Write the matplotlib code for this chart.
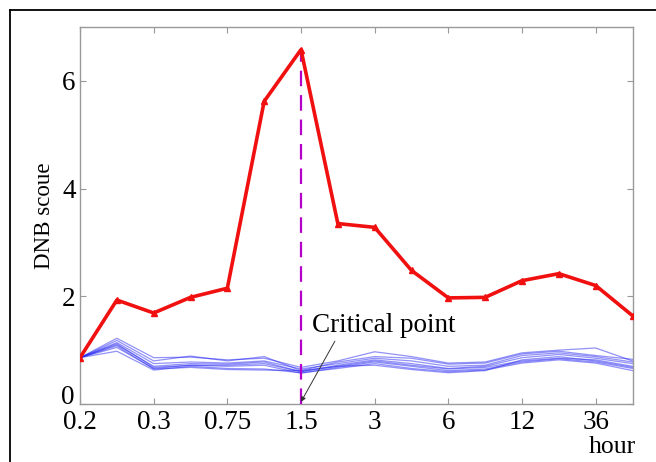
import matplotlib
matplotlib.use("Agg")
import matplotlib.pyplot as plt
import matplotlib.transforms as mtransforms
from matplotlib.lines import Line2D

tick_labels = ["0.2", "0.3", "0.75", "1.5", "3", "6", "12", "36"]
x = list(range(16))
red = [0.86, 1.93, 1.69, 1.98, 2.15, 5.62, 6.58, 3.35, 3.28, 2.48, 1.97, 1.98, 2.29, 2.42, 2.20, 1.64]
blue_lines = [
    [0.86, 1.22, 0.86, 0.87, 0.82, 0.85, 0.68, 0.80, 0.97, 0.88, 0.76, 0.78, 0.95, 1.00, 1.04, 0.80],
    [0.86, 1.18, 0.80, 0.89, 0.80, 0.88, 0.62, 0.78, 0.88, 0.85, 0.74, 0.76, 0.93, 0.98, 0.90, 0.83],
    [0.86, 1.14, 0.75, 0.78, 0.76, 0.80, 0.65, 0.75, 0.85, 0.80, 0.70, 0.72, 0.90, 0.95, 0.88, 0.78],
    [0.86, 1.10, 0.70, 0.75, 0.74, 0.78, 0.60, 0.72, 0.82, 0.75, 0.66, 0.70, 0.86, 0.92, 0.85, 0.75],
    [0.86, 1.12, 0.68, 0.72, 0.72, 0.75, 0.60, 0.70, 0.80, 0.72, 0.65, 0.68, 0.80, 0.85, 0.82, 0.70],
    [0.86, 1.05, 0.66, 0.72, 0.70, 0.72, 0.57, 0.68, 0.78, 0.70, 0.62, 0.65, 0.78, 0.84, 0.78, 0.66],
    [0.86, 0.98, 0.63, 0.70, 0.66, 0.65, 0.58, 0.66, 0.75, 0.66, 0.60, 0.63, 0.76, 0.82, 0.76, 0.62],
    [0.86, 1.08, 0.65, 0.68, 0.64, 0.63, 0.62, 0.70, 0.72, 0.64, 0.58, 0.62, 0.82, 0.88, 0.80, 0.68],
]
critical_idx = 6

plt.rcParams['font.family'] = ['Liberation Serif', 'DejaVu Serif']

fig = plt.figure(figsize=(6.56, 4.62), dpi=100)
ax = fig.add_axes([80/656, 58/462, 552.5/656, 377/462])

for yl in blue_lines:
    ax.plot(x, yl, color=(0.15, 0.15, 0.95), alpha=0.5, lw=0.9, zorder=2)

ax.plot([critical_idx, critical_idx], [0, red[critical_idx]], color='#B400C8',
        lw=1.6, dashes=(7, 4), zorder=3)
ax.plot(x, red, color='#F01010', lw=2.6, marker='^', markersize=4, zorder=4)

ax.annotate("Critical point", xy=(critical_idx, 0.04), xytext=(critical_idx + 0.3, 1.45),
            fontsize=19.5, ha='left', va='center',
            arrowprops=dict(arrowstyle='-|>', color='#333333', lw=0.7,
                            mutation_scale=7, shrinkA=0, shrinkB=0,
                            relpos=(0.17, 0.0)))

ax.set_xlim(0, 15)
ax.set_ylim(0, 7)
ax.set_xticks(range(0, 16, 2))
ax.set_xticklabels(tick_labels, fontsize=19.5)
ax.set_yticks([0, 2, 4, 6])
ax.set_yticklabels(["0", "2", "4", "6"], fontsize=19.5)
ax.tick_params(direction='in', length=4, color='#999999', top=True, right=True,
               pad=3)
ax.tick_params(axis='x', pad=4)
for s in ax.spines.values():
    s.set_color('#999999')
    s.set_linewidth(1.0)

# lift the "0" label slightly as in the reference
lab0 = ax.get_yticklabels()[0]
lab0.set_transform(lab0.get_transform() + mtransforms.ScaledTranslation(-1/72, 7/72, fig.dpi_scale_trans))

ax.set_ylabel("DNB scoue", fontsize=16.5)
ax.yaxis.set_label_coords(-0.046, 0.5)
fig.text(612/656, 1 - 447/462, "hour", fontsize=18.5, ha='center', va='center')

# outer frame (top and left)
fig.add_artist(Line2D([10/656, 10/656], [0, 1 - 10/462], color='black', lw=1.3, transform=fig.transFigure))
fig.add_artist(Line2D([10/656, 1], [1 - 10/462, 1 - 10/462], color='black', lw=1.3, transform=fig.transFigure))

fig.savefig("out.png", dpi=100)
